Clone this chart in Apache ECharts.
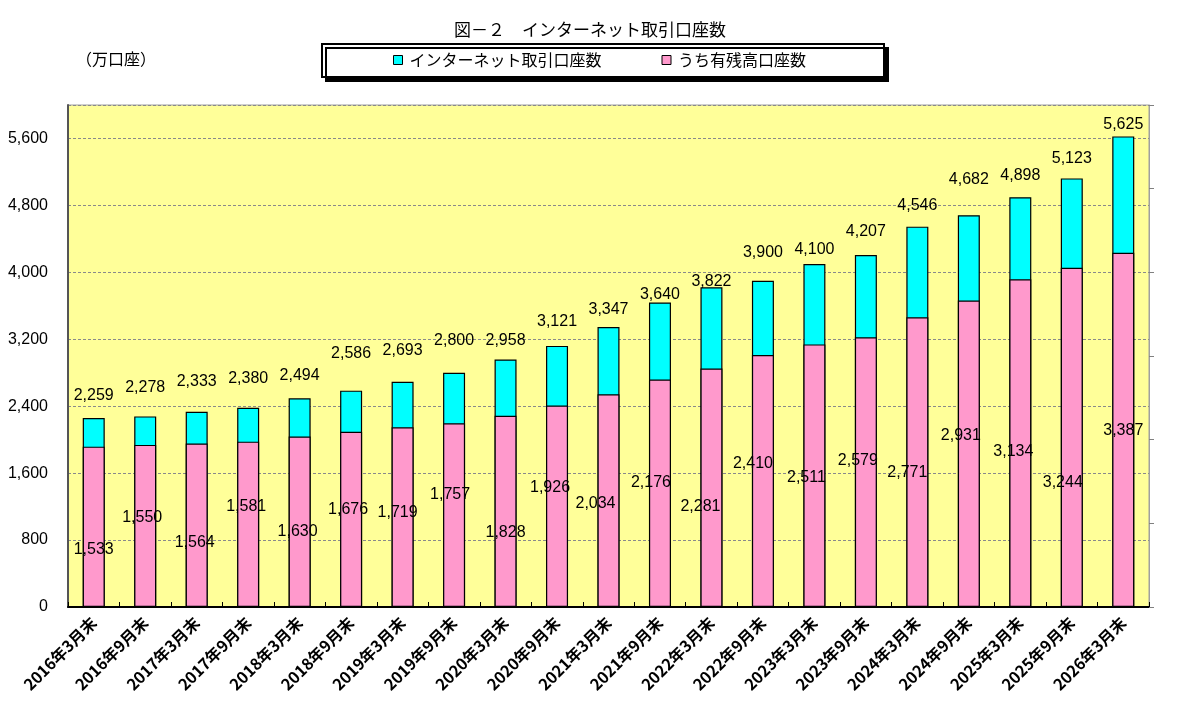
<!DOCTYPE html>
<html>
<head>
<meta charset="utf-8">
<script src="https://cdn.jsdelivr.net/npm/echarts@6/dist/echarts.min.js"></script>
<style>
html,body{margin:0;padding:0;background:#fff;}
#c{width:1180px;height:713px;}
</style>
</head>
<body>
<div id="c"></div>
<script>
// ---- data ----
const categories = ['2016年3月末','2016年9月末','2017年3月末','2017年9月末','2018年3月末','2018年9月末','2019年3月末','2019年9月末','2020年3月末','2020年9月末','2021年3月末','2021年9月末','2022年3月末','2022年9月末','2023年3月末','2023年9月末','2024年3月末','2024年9月末','2025年3月末','2025年9月末','2026年3月末'];
const internetAccounts = [2259,2278,2333,2380,2494,2586,2693,2800,2958,3121,3347,3640,3822,3900,4100,4207,4546,4682,4898,5123,5625];
const balanceAccounts = [1533,1550,1564,1581,1630,1676,1719,1757,1828,1926,2034,2176,2281,2410,2511,2579,2771,2931,3134,3244,3387];
const leftTickValues = [0,800,1600,2400,3200,4000,4800,5600];
const rightTickValues = [0,800,1600,2400,3200,4000,4800];
const seriesNames = ['インターネット取引口座数','うち有残高口座数'];
const titleText = '図－２　インターネット取引口座数';
const unitText = '（万口座）';

// ---- label placement (style only, pixels) ----
const totalLabelGap = [22,29,30,29,23,37,31,32,19,24,17,8,6,28,14,23,21,36,22,20,12];
const balanceLabelLift = [57,89,64,100,75,97,94,112,74,119,103,124,100,143,129,146,134,171,155,124,176];
const balanceLabelShift = [0,-3,-2,-2,-2,-3,-5,-4,0,-7,-13,-9,-11,-10,-8,-8,-10,-8,-7,-9,0];

const fmt = v => Number(v).toLocaleString('en-US');
const numFont = "'Liberation Sans', Arial, 'Noto Sans CJK JP', sans-serif";
const cjkFont = "'Noto Sans CJK JP', 'Liberation Sans', sans-serif";

const leftInterval = leftTickValues[1] - leftTickValues[0];
const rightInterval = rightTickValues[1] - rightTickValues[0];

const chart = echarts.init(document.getElementById('c'), null, {renderer: 'canvas'});

const option = {
  animation: false,
  backgroundColor: '#ffffff',
  title: {
    text: titleText,
    left: 'center',
    top: 16,
    textStyle: {fontFamily: cjkFont, fontSize: 17, fontWeight: 'normal', color: '#000'}
  },
  graphic: [{
    type: 'text',
    left: 76,
    top: 51,
    style: {text: unitText, fontFamily: cjkFont, fontSize: 16, fill: '#000'}
  }],
  legend: {
    data: seriesNames,
    left: 322,
    top: 44,
    padding: [8, 78, 9, 71],
    itemGap: 60,
    itemWidth: 9,
    itemHeight: 9,
    icon: 'rect',
    backgroundColor: '#ffffff',
    borderColor: '#000',
    borderWidth: 2,
    shadowColor: '#000',
    shadowBlur: 0,
    shadowOffsetX: 4,
    shadowOffsetY: 4,
    textStyle: {fontFamily: cjkFont, fontSize: 16, color: '#000', padding: [0,0,0,2]},
    itemStyle: {borderColor: '#000', borderWidth: 1}
  },
  grid: {
    left: 68, right: 31, top: 105, bottom: 106,
    show: true,
    backgroundColor: '#FFFF99',
    borderColor: '#a0a0a0',
    borderWidth: 1
  },
  xAxis: {
    type: 'category',
    data: categories,
    boundaryGap: true,
    axisLine: {lineStyle: {color: '#000', width: 2}},
    axisTick: {show: true, inside: true, length: 5, interval: 0, lineStyle: {color: '#000'}},
    axisLabel: {
      interval: 0, rotate: 45, margin: 13,
      fontFamily: cjkFont, fontSize: 16, fontWeight: 'bold', color: '#000'
    },
    splitLine: {show: false}
  },
  yAxis: [{
    type: 'value',
    min: leftTickValues[0],
    max: 6000,
    interval: leftInterval,
    position: 'left',
    axisLine: {show: true, lineStyle: {color: '#555', width: 2}},
    axisTick: {show: false},
    axisLabel: {
      showMaxLabel: false,
      margin: 20,
      fontFamily: numFont, fontSize: 16, color: '#000',
      formatter: v => (v > leftTickValues[leftTickValues.length - 1] ? '' : fmt(v))
    },
    splitLine: {show: true, lineStyle: {color: '#8a8a8a', type: [3, 2], width: 1}}
  }, {
    type: 'value',
    min: rightTickValues[0],
    max: rightTickValues[rightTickValues.length - 1],
    interval: rightInterval,
    position: 'right',
    axisLine: {show: true, lineStyle: {color: '#a0a0a0', width: 1}},
    axisTick: {show: true, inside: false, length: 5, lineStyle: {color: '#808080'}},
    axisLabel: {show: false},
    splitLine: {show: false}
  }],
  series: [{
    name: seriesNames[0],
    type: 'bar',
    yAxisIndex: 0,
    barWidth: 22,
    barGap: '-100%',
    itemStyle: {color: '#00FFFF', borderColor: '#000', borderWidth: 1.2},
    label: {
      show: true, position: 'top', distance: 0,
      fontFamily: numFont, fontSize: 16, lineHeight: 16, color: '#000',
      formatter: p => fmt(p.value)
    },
    data: internetAccounts.map((v, i) => ({
      value: v,
      label: {offset: [0, -(totalLabelGap[i] - 8)]}
    }))
  }, {
    name: seriesNames[1],
    type: 'bar',
    yAxisIndex: 1,
    barWidth: 22,
    barGap: '-100%',
    itemStyle: {color: '#FF99CC', borderColor: '#000', borderWidth: 1.2},
    label: {
      show: true, position: 'insideBottom', distance: 0,
      fontFamily: numFont, fontSize: 16, lineHeight: 16, color: '#000',
      formatter: p => fmt(p.value)
    },
    data: balanceAccounts.map((v, i) => ({
      value: v,
      label: {offset: [balanceLabelShift[i], -(balanceLabelLift[i] - 8)]}
    }))
  }]
};

chart.setOption(option);
</script>
</body>
</html>
